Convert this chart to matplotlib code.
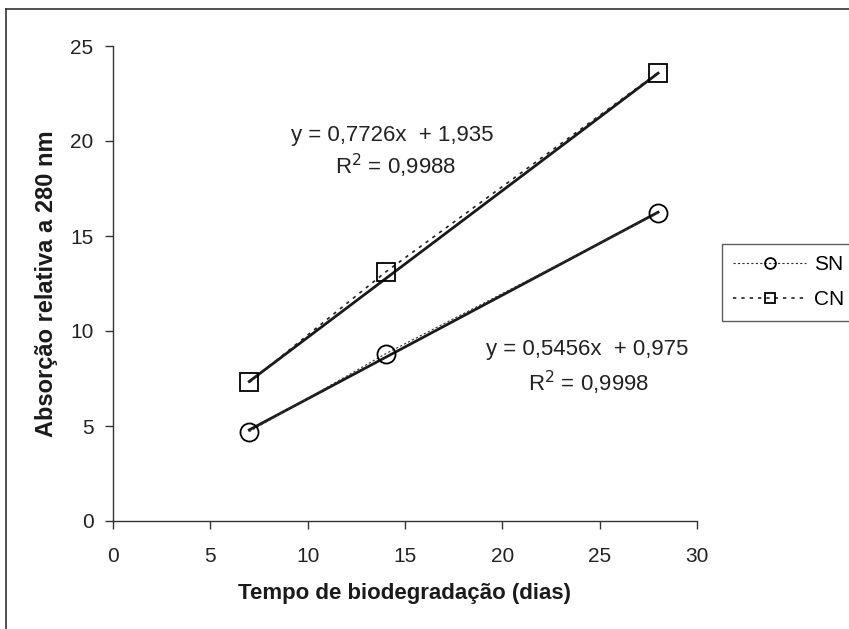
import matplotlib
matplotlib.use("Agg")
import matplotlib.pyplot as plt
from matplotlib.lines import Line2D
import numpy as np

plt.rcParams['font.family'] = ['Liberation Sans', 'DejaVu Sans']

dias = [7, 14, 28]
sn = [4.7, 8.8, 16.2]
cn = [7.3, 13.1, 23.6]
sn_fit = (0.5456, 0.975)
cn_fit = (0.7726, 1.935)
xticks = [0, 5, 10, 15, 20, 25, 30]
yticks = [0, 5, 10, 15, 20, 25]

W, H = 849, 629
fig = plt.figure(figsize=(W / 100, H / 100), dpi=100)
ax = fig.add_axes([113 / W, 1 - 521 / H, (697 - 113) / W, (521 - 46) / H])

# data series (dotted)
l_sn, = ax.plot(dias, sn, linestyle=(0, (2, 2)), color='#333333', linewidth=0.8,
                marker='o', markersize=13, markerfacecolor='none',
                markeredgecolor='black', markeredgewidth=1.3, label='SN', zorder=3)
l_cn, = ax.plot(dias, cn, linestyle=(0, (2, 3)), color='#222222', linewidth=1.2,
                marker='s', markersize=13, markerfacecolor='none',
                markeredgecolor='black', markeredgewidth=1.3, label='CN', zorder=3)

# trend lines
xs = np.array([dias[0], dias[-1]])
ax.plot(xs, sn_fit[0] * xs + sn_fit[1], color='#1a1a1a', linewidth=2.0, zorder=2)
ax.plot(xs, cn_fit[0] * xs + cn_fit[1], color='#1a1a1a', linewidth=2.0, zorder=2)

ax.set_xlim(0, 30)
ax.set_ylim(0, 25)
ax.set_xticks(xticks)
ax.set_yticks(yticks)
ax.spines['top'].set_visible(False)
ax.spines['right'].set_visible(False)
for s in ('left', 'bottom'):
    ax.spines[s].set_color('#333333')
    ax.spines[s].set_linewidth(1.0)
ax.tick_params(axis='both', direction='out', length=6, width=1.0, color='#333333',
               labelsize=15, labelcolor='#222222')
ax.tick_params(axis='x', pad=13)
ax.tick_params(axis='y', pad=8)

ax.set_xlabel('Tempo de biodegradação (dias)', fontsize=16, fontweight='bold',
              color='#1a1a1a', labelpad=12)
ax.set_ylabel('Absorção relativa a 280 nm', fontsize=17, fontweight='bold',
              color='#1a1a1a', labelpad=9)

def fmt(v, d):
    return f"{v:.{d}f}".replace('.', ',')

ax.text(14.35, 20.3, f"y = {fmt(cn_fit[0], 4)}x  + {fmt(cn_fit[1], 3)}", ha='center',
        va='center', fontsize=16, color='#222222')
ax.text(14.5, 18.7, "R$^2$ = 0,9988", ha='center', va='center', fontsize=16, color='#222222')
ax.text(24.35, 9.0, f"y = {fmt(sn_fit[0], 4)}x  + {fmt(sn_fit[1], 3)}", ha='center',
        va='center', fontsize=16, color='#222222')
ax.text(24.45, 7.25, "R$^2$ = 0,9998", ha='center', va='center', fontsize=16, color='#222222')

leg = fig.legend(handles=[l_sn, l_cn], loc='upper left',
                 bbox_to_anchor=(722 / W, 1 - 244 / H), fontsize=15, frameon=True,
                 fancybox=False, edgecolor='#333333', handlelength=3.5,
                 borderpad=0.55, labelspacing=0.75, handletextpad=0.35, markerscale=0.6,
                 borderaxespad=0)
leg.get_frame().set_linewidth(1.0)

# figure border (top and left)
fig.add_artist(Line2D([6 / W, 1], [1 - 9 / H, 1 - 9 / H], color='#333333', linewidth=1.2,
                      transform=fig.transFigure))
fig.add_artist(Line2D([6 / W, 6 / W], [0, 1 - 9 / H], color='#333333', linewidth=1.2,
                      transform=fig.transFigure))

fig.savefig('out.png', dpi=100)
